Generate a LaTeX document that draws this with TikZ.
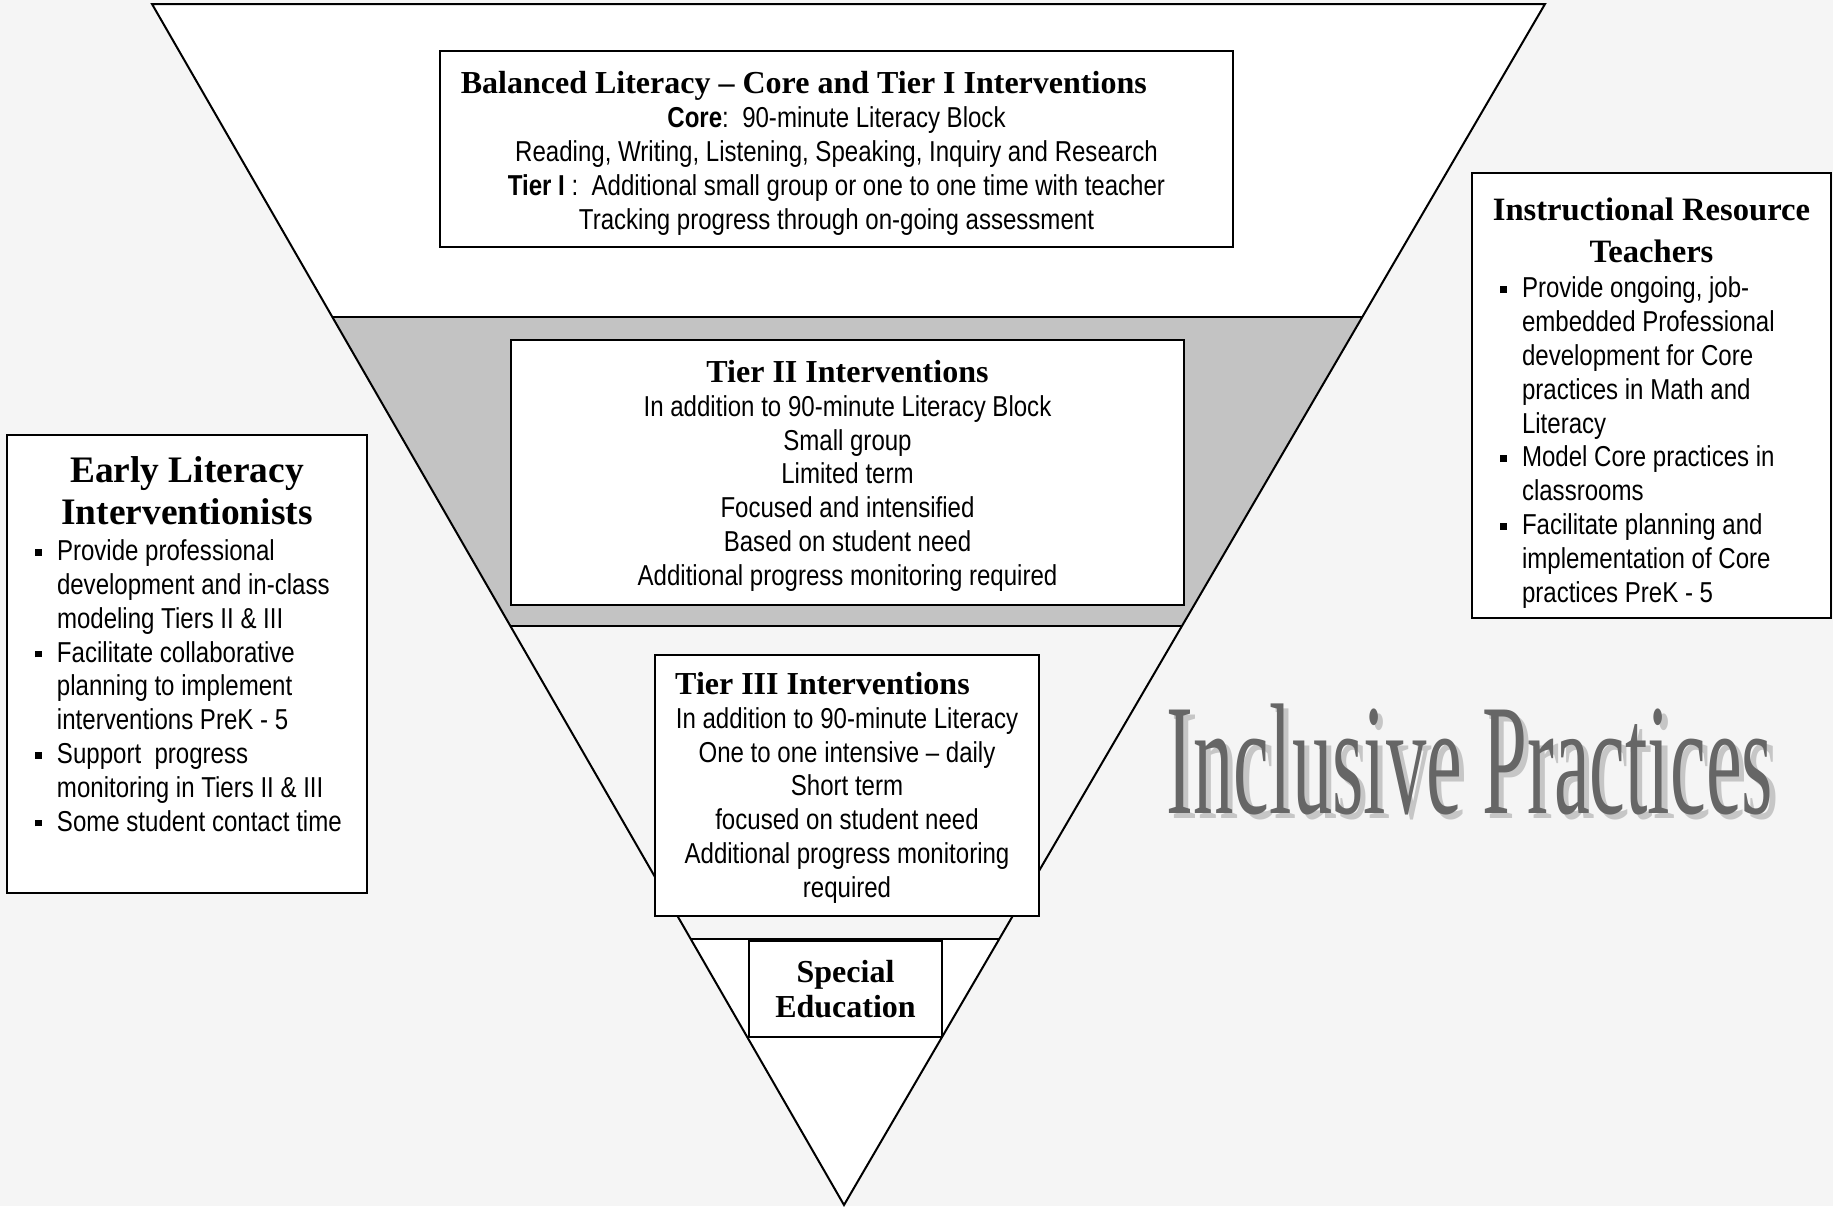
\documentclass[tikz,border=0pt]{standalone}
\usepackage{fontspec}
\setmainfont{Liberation Serif}
\newfontfamily\narrowsans[FakeStretch=0.835]{Liberation Sans}
\usetikzlibrary{calc}

\newcommand{\sqb}{\rule[2.4pt]{3.4pt}{3.4pt}}
\newenvironment{sqlist}{%
  \begin{list}{\sqb}{%
    \setlength{\leftmargin}{25pt}\setlength{\labelwidth}{10pt}%
    \setlength{\labelsep}{7.5pt}\setlength{\itemsep}{0pt}%
    \setlength{\parsep}{0pt}\setlength{\topsep}{0pt}%
    \setlength{\partopsep}{0pt}}}{\end{list}}
\newcommand{\tierhead}[1]{{\rmfamily\bfseries\fontsize{16}{16.9}\selectfont #1}}

\tikzset{
  tierbox/.style={draw, line width=1.1pt, fill=white, align=center, inner sep=0pt,
    font=\narrowsans\fontsize{14.4}{16.9}\selectfont},
  sidebox/.style={draw, line width=1.1pt, fill=white, inner sep=0pt,
    font=\narrowsans\fontsize{14.4}{16.9}\selectfont}
}

\begin{document}
\begin{tikzpicture}[x=0.5pt, y=-0.5pt]
    % Page and background
    \useasboundingbox (0,0) rectangle (1833,1206);
    \fill[gray!8] (0,0) rectangle (1833,1206);

    % Triangle corners and band edges
    \coordinate (tl) at (152,4);
    \coordinate (tr) at (1545,4);
    \coordinate (apex) at (844,1205);
    \coordinate (l1) at ($(tl)!0.2606!(apex)$);
    \coordinate (r1) at ($(tr)!0.2606!(apex)$);
    \coordinate (l2) at ($(tl)!0.5179!(apex)$);
    \coordinate (r2) at ($(tr)!0.5179!(apex)$);
    \coordinate (l3) at ($(tl)!0.7785!(apex)$);
    \coordinate (r3) at ($(tr)!0.7785!(apex)$);

    % Bands
    \fill[white] (tl) -- (tr) -- (r1) -- (l1) -- cycle;
    \fill[gray!47] (l1) -- (r1) -- (r2) -- (l2) -- cycle;
    \fill[white] (l3) -- (r3) -- (apex) -- cycle;

    % Outline
    \draw[line width=1pt] (tl) -- (tr) -- (apex) -- cycle;
    \draw[line width=1pt] (l1) -- (r1);
    \draw[line width=1.2pt] (l2) -- (r2);
    \draw[line width=1pt] (l3) -- (r3);

    % Tier boxes
    \node[tierbox, minimum width=396.5pt, minimum height=98pt] (core) at (836.5,149)
        {\rule{0pt}{15.5pt}\tierhead{Balanced Literacy – Core and Tier I Interventions}\hspace*{32.7pt}\\
         \textbf{Core}:\ \ 90-minute Literacy Block\\
         Reading, Writing, Listening, Speaking, Inquiry and Research\\
         \textbf{Tier I} :\ \ Additional small group or one to one time with teacher\\
         Tracking progress through on-going assessment};

    \node[tierbox, minimum width=336.5pt, minimum height=132.5pt] (tiertwo) at (847.5,472.5)
        {\rule{0pt}{14.4pt}\tierhead{Tier II Interventions}\\
         In addition to 90-minute Literacy Block\\
         Small group\\
         Limited term\\
         Focused and intensified\\
         Based on student need\\
         Additional progress monitoring required};

    \node[tierbox, minimum width=192pt, minimum height=130.5pt] (tierthree) at (847,785.5)
        {\rule{0pt}{13.3pt}\tierhead{Tier III Interventions}\hspace*{24.5pt}\\
         In addition to 90-minute Literacy\\
         One to one intensive – daily\\
         Short term\\
         focused on student need\\
         Additional progress monitoring\\
         required};

    \node[tierbox, minimum width=96.5pt, minimum height=48pt] (specialed) at (845.5,989)
        {\tierhead{Special}\\[0.5pt]
         \tierhead{Education}};

    % Side boxes
    \node[sidebox] (earlylit) at (187,664)
        {\parbox[c][229pt][t]{180pt}{\raggedright
         \vspace*{11pt}
         {\centering\rmfamily\bfseries\fontsize{18.7}{21}\selectfont
          Early Literacy\\ Interventionists\par}
         \vspace{1pt}
         \begin{sqlist}
         \item Provide professional\newline development and in-class\newline modeling Tiers II \& III
         \item Facilitate collaborative\newline planning to implement\newline interventions PreK - 5
         \item Support\ \ progress\newline monitoring in Tiers II \& III
         \item Some student contact time
         \end{sqlist}}};

    \node[sidebox] (resource) at (1651.5,395.5)
        {\parbox[c][222.5pt][t]{179.5pt}{\raggedright
         \vspace*{12.2pt}
         {\centering\rmfamily\bfseries\fontsize{16.3}{21}\selectfont
          Instructional Resource\\ Teachers\par}
         \vspace{1pt}
         \begin{sqlist}
         \item Provide ongoing, job-\newline embedded Professional\newline development for Core\newline practices in Math and\newline Literacy
         \item Model Core practices in\newline classrooms
         \item Facilitate planning and\newline implementation of Core\newline practices PreK - 5
         \end{sqlist}}};

    % Title with its shadow
    \node[anchor=base, xscale=0.51, transform shape,
          font=\rmfamily\fontsize{79}{80}\selectfont] (title) at (1470,813)
        {\rlap{\hspace{5pt}\raisebox{-2.5pt}{\color{gray!45}Inclusive Practices}}%
         \color{black!60}Inclusive Practices};

\end{tikzpicture}
\end{document}
